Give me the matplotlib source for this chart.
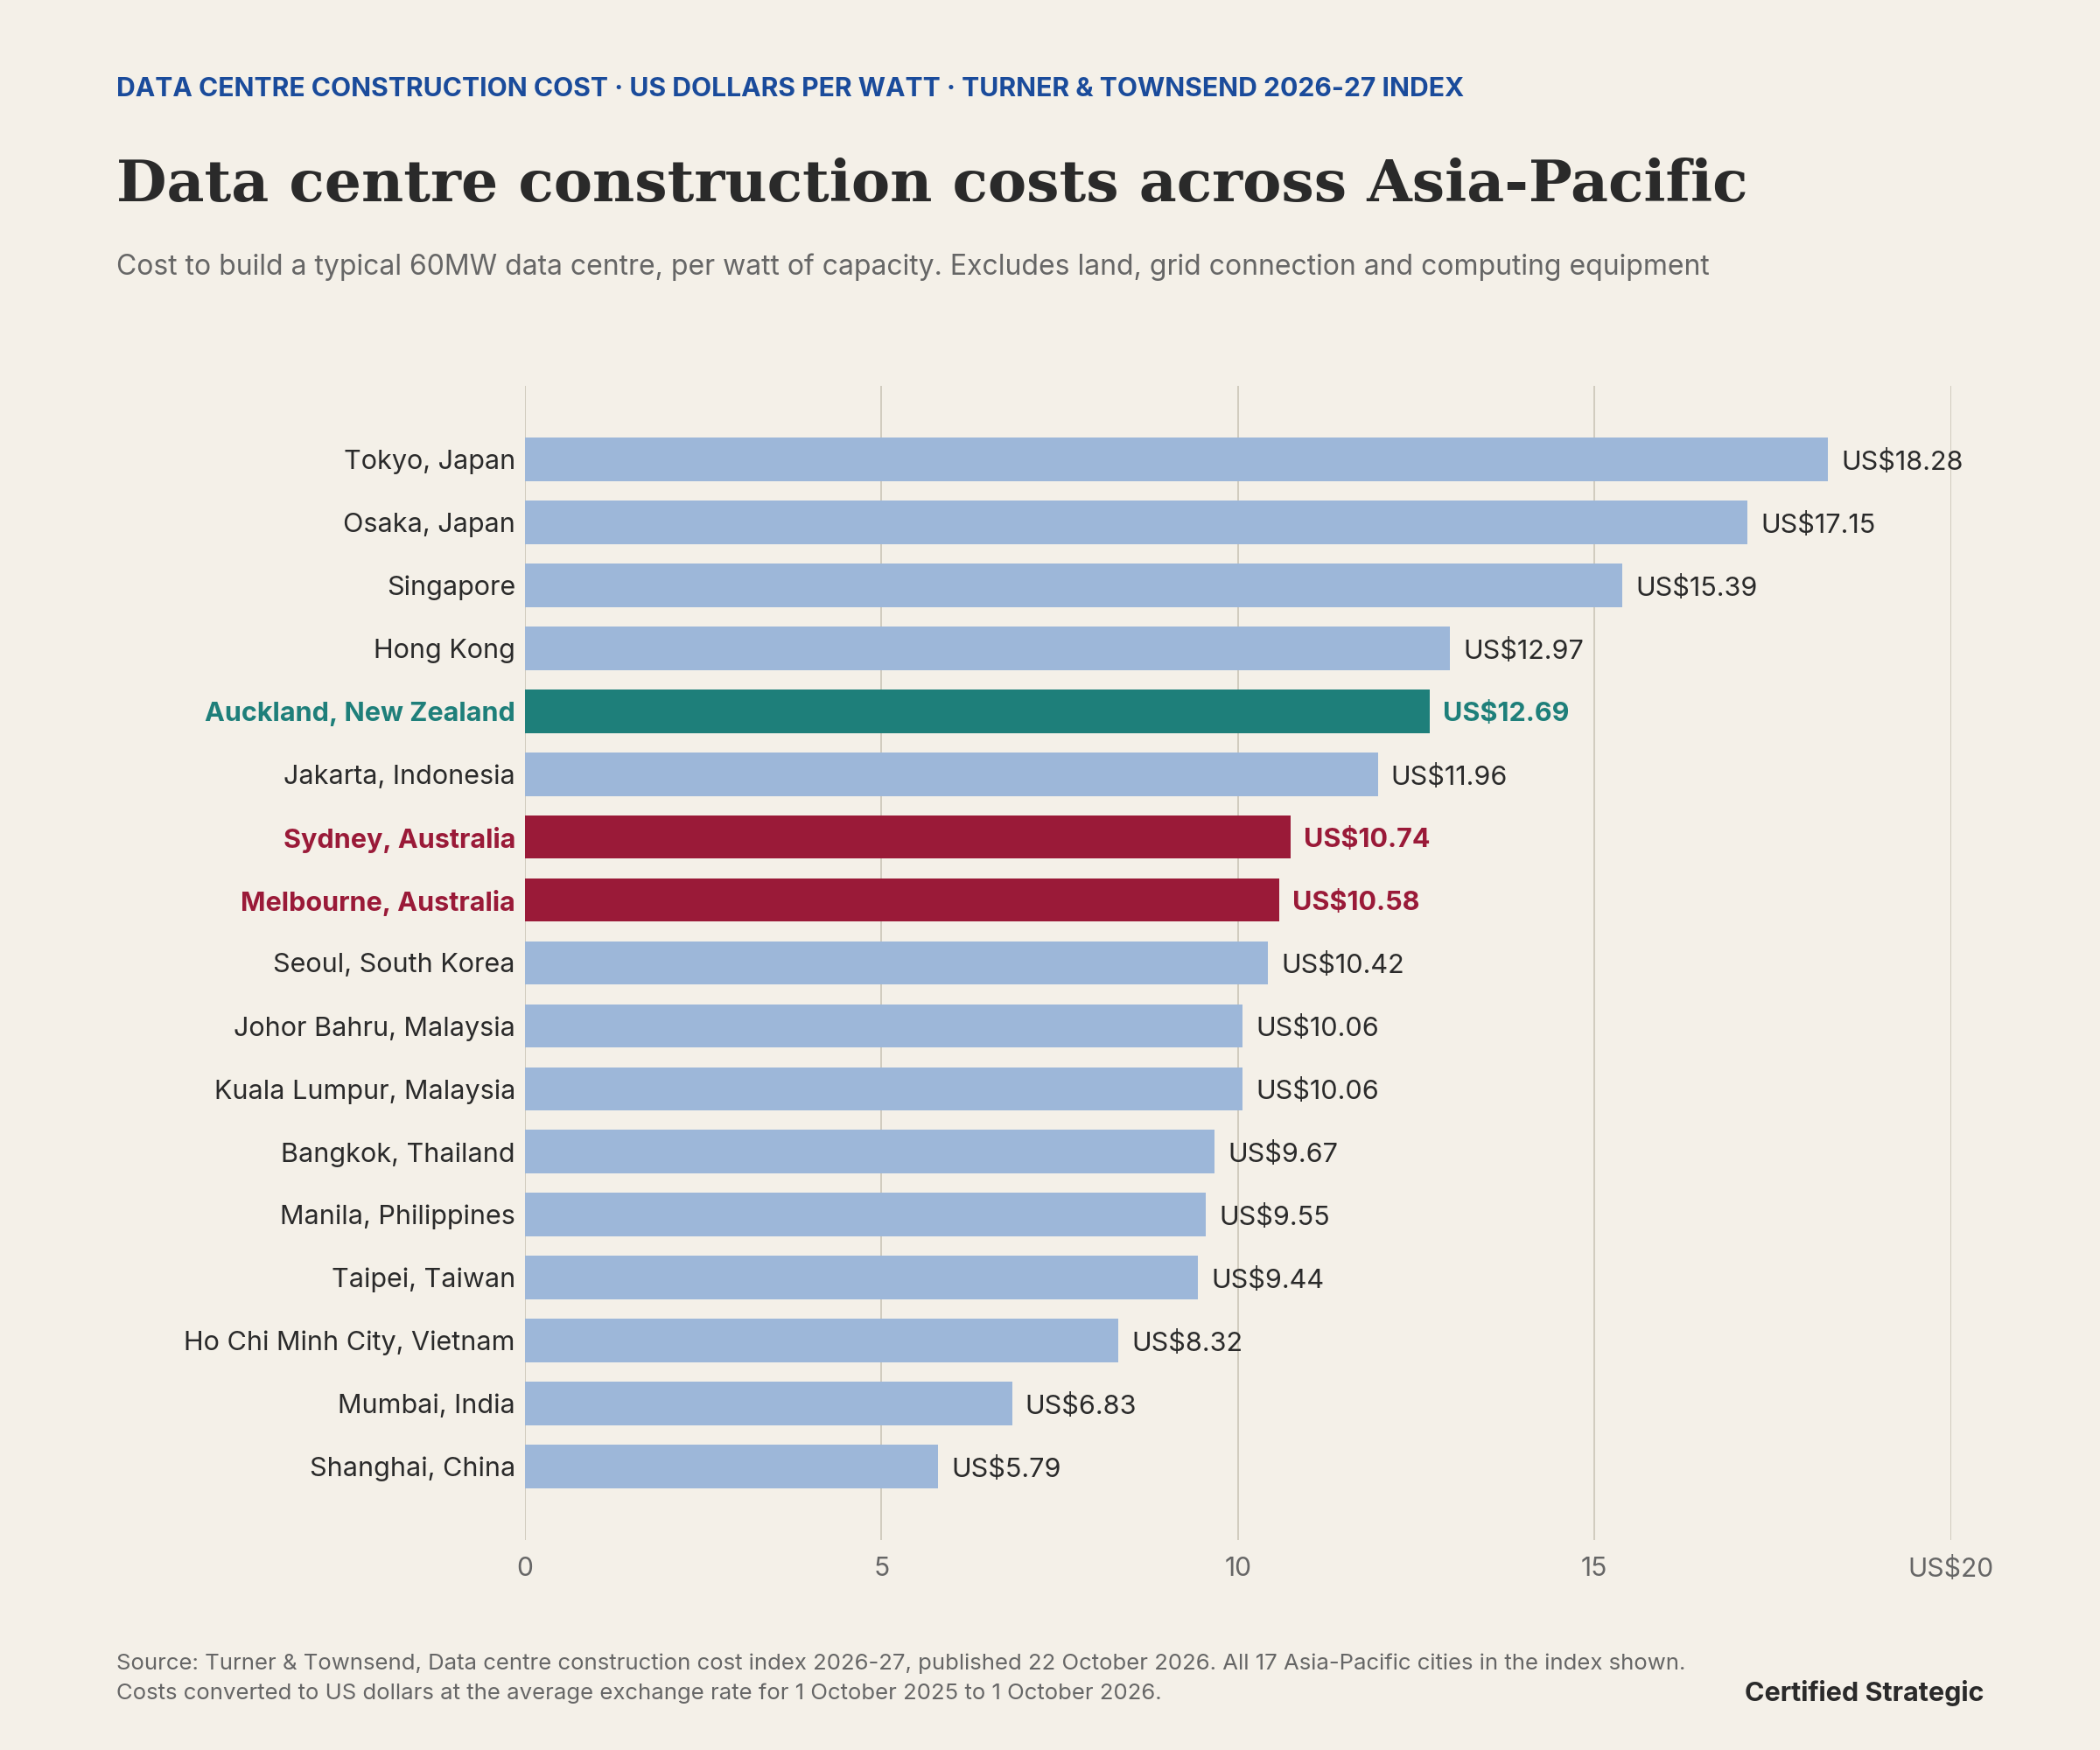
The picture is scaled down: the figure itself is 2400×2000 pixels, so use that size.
import matplotlib.pyplot as plt
import matplotlib.transforms as mtransforms

# Data: US$ per watt, Turner & Townsend 2026-27 (Asia-Pacific)
cities = [
    "Tokyo, Japan", "Osaka, Japan", "Singapore", "Hong Kong",
    "Auckland, New Zealand", "Jakarta, Indonesia", "Sydney, Australia",
    "Melbourne, Australia", "Seoul, South Korea", "Johor Bahru, Malaysia",
    "Kuala Lumpur, Malaysia", "Bangkok, Thailand", "Manila, Philippines",
    "Taipei, Taiwan", "Ho Chi Minh City, Vietnam", "Mumbai, India",
    "Shanghai, China",
]
costs = [18.28, 17.15, 15.39, 12.97, 12.69, 11.96, 10.74, 10.58, 10.42,
         10.06, 10.06, 9.67, 9.55, 9.44, 8.32, 6.83, 5.79]
highlight = {"Auckland, New Zealand": "nz", "Sydney, Australia": "au",
             "Melbourne, Australia": "au"}
x_ticks = [0, 5, 10, 15, 20]
x_tick_labels = ["0", "5", "10", "15", "US$20"]

BG = "#f4f0e8"
BLUE = "#9db7d9"
TEAL = "#1e7f7a"
CRIMSON = "#9a1a38"
INK = "#2a2a2a"
GREY = "#666666"
GRID = "#cbc5b7"
colours = {"nz": TEAL, "au": CRIMSON}

plt.rcParams["font.family"] = ["Inter", "DejaVu Sans"]

fig = plt.figure(figsize=(12, 10), dpi=200, facecolor=BG)
ax = fig.add_axes([0.25, 0.12, 0.679, 0.6595])
ax.set_facecolor(BG)

ypos = list(range(len(cities)))
bar_cols = [colours.get(highlight.get(c), BLUE) for c in cities]
ax.barh(ypos, costs, height=0.69, color=bar_cols, zorder=2)

for y, c, v in zip(ypos, cities, costs):
    key = highlight.get(c)
    col = colours.get(key, INK)
    ax.annotate(f"US${v:.2f}", xy=(v, y), xytext=(5.5, -1.2), textcoords="offset points",
                va="center", ha="left", fontsize=11, color=col,
                fontweight="bold" if key else "normal")

ax.set_ylim(len(cities) - 1 + 1.17, -1.17)
ax.set_xlim(0, 20)
ax.set_yticks(ypos)
ax.set_yticklabels(cities, fontsize=11.0, color=INK)
shift = mtransforms.ScaledTranslation(0, -1.5 / 72, fig.dpi_scale_trans)
for lbl, c in zip(ax.get_yticklabels(), cities):
    lbl.set_transform(lbl.get_transform() + shift)
    key = highlight.get(c)
    if key:
        lbl.set_color(colours[key])
        lbl.set_fontweight("bold")
ax.set_xticks(x_ticks)
ax.set_xticklabels(x_tick_labels, fontsize=10.8, color=GREY)
ax.tick_params(axis="both", length=0)
ax.tick_params(axis="y", pad=4.0)
ax.tick_params(axis="x", pad=7)
ax.grid(axis="x", color=GRID, linewidth=0.6, zorder=0)
for s in ax.spines.values():
    s.set_visible(False)

# header
fig.text(133 / 2400, 1 - 102 / 2000,
         "DATA CENTRE CONSTRUCTION COST · US DOLLARS PER WATT · TURNER & TOWNSEND 2026-27 INDEX",
         fontsize=10.85, fontweight="bold", color="#1a4b9b", va="center", ha="left")
fig.text(133 / 2400, 1 - 212 / 2000, "Data centre construction costs across Asia-Pacific",
         fontsize=23.9, fontweight="bold", family="DejaVu Serif", color=INK,
         va="center", ha="left")
fig.text(133 / 2400, 1 - 305 / 2000,
         "Cost to build a typical 60MW data centre, per watt of capacity. "
         "Excludes land, grid connection and computing equipment",
         fontsize=11.5, color=GREY, va="center", ha="left")

# footer
fig.text(133 / 2400, 1 - 1901 / 2000,
         "Source: Turner & Townsend, Data centre construction cost index 2026-27, "
         "published 22 October 2026. All 17 Asia-Pacific cities in the index shown.",
         fontsize=9.25, color=GREY, va="center", ha="left")
fig.text(133 / 2400, 1 - 1935 / 2000,
         "Costs converted to US dollars at the average exchange rate for "
         "1 October 2025 to 1 October 2026.",
         fontsize=9.25, color=GREY, va="center", ha="left")
fig.text(2267 / 2400, 1 - 1935 / 2000, "Certified Strategic", fontsize=11,
         fontweight="bold", color=INK, va="center", ha="right")

fig.savefig("out.png", dpi=200, facecolor=BG)
